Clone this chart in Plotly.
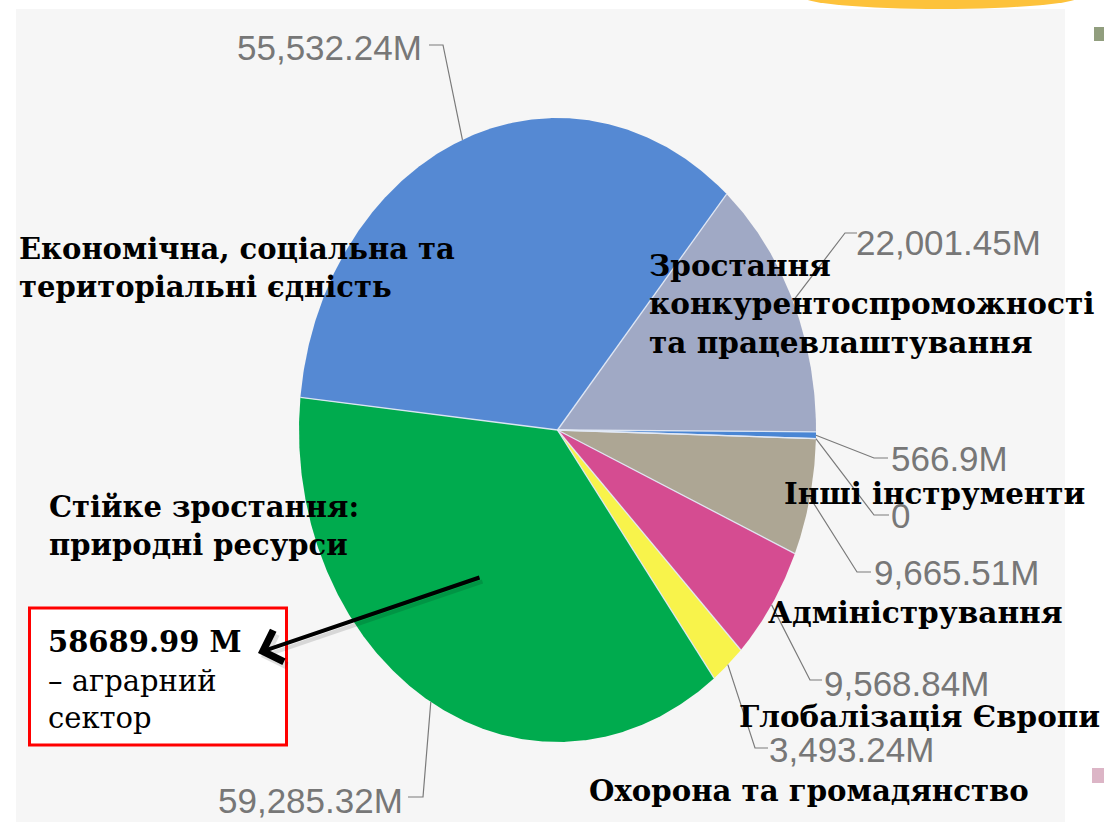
import numpy as np
import plotly.graph_objects as go

# ---------------- data ----------------
categories = [
    "Економічна, соціальна та територіальні єдність",
    "Зростання конкурентоспроможності та працевлаштування",
    "Інші інструменти",
    "",
    "Адміністрування",
    "Глобалізація Європи",
    "Охорона та громадянство",
    "Стійке зростання: природні ресурси",
]
values = [55532.24, 22001.45, 566.9, 0.0, 9665.51, 9568.84, 3493.24, 59285.32]
value_labels = ["55,532.24M", "22,001.45M", "566.9M", "0",
                "9,665.51M", "9,568.84M", "3,493.24M", "59,285.32M"]
colors = ["#5589d3", "#a0a9c5", "#4a86d4", "#888888",
          "#ada694", "#d54c91", "#f8f34b", "#00ab4e"]

# category label texts as displayed (line breaks)
category_display = [
    "Економічна, соціальна та<br>територіальні єдність",
    "Зростання<br>конкурентоспроможності<br>та працевлаштування",
    "Інші інструменти",
    "",
    "Адміністрування",
    "Глобалізація Європи",
    "Охорона та громадянство",
    "Стійке зростання:<br>природні ресурси",
]
callout_value = "58689.99 M"
callout_lines = ["– аграрний", "сектор"]

# ---------------- layout / geometry (styling) ----------------
W, H = 1104, 822
CX, CY, RX, RY = 557.5, 430.0, 258.5, 312.0
START_DEG = 174.0  # first slice starts here (math angle), drawn clockwise

# leader elbows / ends and value-label anchor per slice
leader_pts = [
    [(443, 45), (429, 45)],
    [(845, 233), (857, 233)],
    [(874, 458), (888, 458)],
    [(874, 515), (889, 515)],
    [(857, 572), (871, 572)],
    [(810, 680), (822, 680)],
    [(755, 748), (768, 748)],
    [(423, 797), (408, 797)],
]
vlabel_pos = [
    (423, 47, "right"), (855, 242, "left"), (890, 458, "left"), (890, 515, "left"),
    (873, 572, "left"), (823, 683, "left"), (768, 749, "left"), (404, 800, "right"),
]
clabel_pos = [
    (17, 268, "left", 29), (647, 304, "left", 29.5), (782, 493, "left", 29.3), None,
    (766, 612, "left", 29.6), (737, 716, "left", 29.4), (587, 791, "left", 29.2),
    (47, 526, "left", 29),
]

vals = np.array(values, dtype=float)
fracs = vals / vals.sum()
bounds = START_DEG - 360.0 * np.concatenate([[0.0], np.cumsum(fracs)])

fig = go.Figure()

# slices
for i, (cat, f) in enumerate(zip(categories, fracs)):
    if f <= 0:
        continue
    a0, a1 = bounds[i], bounds[i + 1]
    th = np.radians(np.linspace(a0, a1, max(3, int(f * 900) + 3)))
    xs = np.concatenate([[CX], CX + RX * np.cos(th), [CX]])
    ys = np.concatenate([[CY], CY - RY * np.sin(th), [CY]])
    fig.add_trace(go.Scatter(
        x=xs, y=ys, mode="lines", fill="toself", fillcolor=colors[i],
        line=dict(width=0, color=colors[i]), name=cat or "0",
        hoverinfo="name", showlegend=False))

# radial slice borders
bx, by = [], []
for a in bounds[:-1]:
    r = np.radians(a)
    bx += [CX, CX + RX * np.cos(r), None]
    by += [CY, CY - RY * np.sin(r), None]
fig.add_trace(go.Scatter(x=bx, y=by, mode="lines",
                         line=dict(color="rgba(225,233,245,0.95)", width=1.3),
                         hoverinfo="skip", showlegend=False))

# leader lines
for i in range(len(values)):
    mid = np.radians((bounds[i] + bounds[i + 1]) / 2.0)
    sx, sy = CX + RX * np.cos(mid), CY - RY * np.sin(mid)
    (ex, ey), (tx, ty) = leader_pts[i]
    fig.add_trace(go.Scatter(x=[sx, ex, tx], y=[sy, ey, ty], mode="lines",
                             line=dict(color="#7a7a7a", width=1.2),
                             hoverinfo="skip", showlegend=False))

ann = []
vfont = dict(family="Liberation Sans, Arial, sans-serif", size=35, color="#777777")
for lab, (x, y, anc) in zip(value_labels, vlabel_pos):
    ann.append(dict(x=x, y=y, xref="x", yref="y", text=lab, showarrow=False,
                    xanchor=anc, yanchor="middle", font=vfont, borderpad=0))

for txt, pos in zip(category_display, clabel_pos):
    if pos is None or not txt:
        continue
    x, y, anc, sz = pos
    ann.append(dict(x=x, y=y, xref="x", yref="y", text=txt, showarrow=False,
                    xanchor=anc, yanchor="middle", align="left",
                    font=dict(family="DejaVu Serif, serif", size=sz, color="#000000",
                              weight="bold")))

# callout box texts
ann.append(dict(x=46, y=642, xref="x", yref="y", text="<b>" + callout_value + "</b>",
                showarrow=False, xanchor="left", yanchor="middle",
                font=dict(family="DejaVu Serif, serif", size=29, color="#000")))
for txt, y in zip(callout_lines, [681, 718]):
    ann.append(dict(x=46, y=y, xref="x", yref="y", text=txt, showarrow=False,
                    xanchor="left", yanchor="middle",
                    font=dict(family="DejaVu Serif, serif", size=29, color="#000")))

# arrow (soft shadow + arrow)
ann.append(dict(x=261, y=657, xref="x", yref="y", ax=484, ay=581, axref="x", ayref="y",
                text="", showarrow=True, arrowhead=4, arrowsize=1.6, arrowwidth=4,
                arrowcolor="rgba(0,0,0,0.12)"))
ann.append(dict(x=258, y=653, xref="x", yref="y", ax=481, ay=577, axref="x", ayref="y",
                text="", showarrow=True, arrowhead=4, arrowsize=1.6, arrowwidth=4,
                arrowcolor="#000000"))

shapes = [
    dict(type="rect", xref="x", yref="y", x0=16, y0=9, x1=1065, y1=H,
         fillcolor="#f6f6f6", line=dict(width=0), layer="below"),
    dict(type="circle", xref="x", yref="y", x0=801, y0=-17, x1=1081, y1=9,
         fillcolor="#fdc23b", line=dict(width=0), layer="below"),
    dict(type="rect", xref="x", yref="y", x0=1094, y0=27, x1=1104, y1=41,
         fillcolor="#919e7e", line=dict(width=0), layer="below"),
    dict(type="rect", xref="x", yref="y", x0=1092, y0=768, x1=1104, y1=783,
         fillcolor="#dcb5c6", line=dict(width=0), layer="below"),
    dict(type="rect", xref="x", yref="y", x0=29.5, y0=608, x1=286.5, y1=745,
         fillcolor="#ffffff", line=dict(width=3, color="#ff0000"), layer="above"),
]

fig.update_layout(
    width=W, height=H, autosize=False,
    margin=dict(l=0, r=0, t=0, b=0),
    paper_bgcolor="#ffffff", plot_bgcolor="rgba(0,0,0,0)",
    xaxis=dict(range=[0, W], visible=False, fixedrange=True),
    yaxis=dict(range=[H, 0], visible=False, fixedrange=True),
    shapes=shapes, annotations=ann, showlegend=False,
)

fig.write_html("out.html", config={"displayModeBar": False},
               post_script="document.body.style.margin='0';document.body.style.overflow='hidden';")
